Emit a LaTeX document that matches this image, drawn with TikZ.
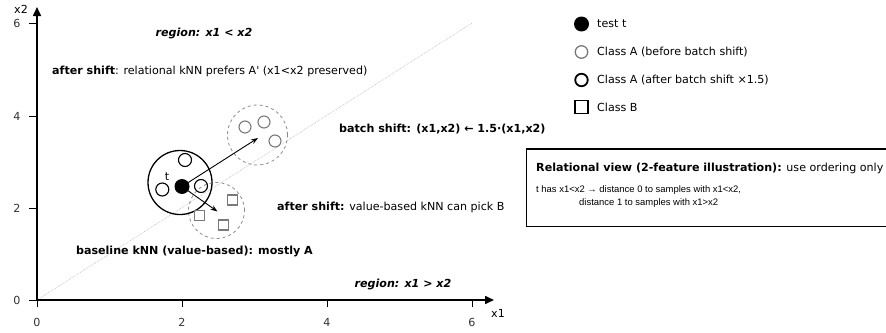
\documentclass[tikz,border=0pt]{standalone}
\usepackage{fontspec}
\setmainfont{DejaVu Sans}
\newfontfamily\dvstraight{DejaVu Sans}[Ligatures=TeXOff]
\newfontfamily\arialf{Liberation Sans}
\usetikzlibrary{arrows.meta}
\definecolor{gA}{HTML}{7A7A7A}
\definecolor{gD}{HTML}{8C8C8C}
\definecolor{gL}{HTML}{BDBDBD}
\tikzset{
  txt/.style={font=\fontsize{11.1}{13}\selectfont, inner sep=0pt},
  axis/.style={line width=1.6pt, -{Triangle[length=9pt,width=8pt]}},
  tick/.style={line width=0.8pt},
  ticklab/.style={txt, text=black!80},
  bigc/.style={circle, draw, line width=1.3pt, minimum size=64pt, inner sep=0pt},
  testpt/.style={circle, fill=black, minimum size=15pt, inner sep=0pt},
  Anew/.style={circle, draw=black, line width=1.1pt, minimum size=13pt, inner sep=0pt},
  Aold/.style={circle, draw=gA, line width=1.1pt, minimum size=12pt, inner sep=0pt},
  Bsq/.style={rectangle, draw=gA, line width=1.1pt, minimum size=10pt, inner sep=0pt},
  dcirc/.style={circle, draw=gD, dashed, line width=0.8pt, inner sep=0pt},
  arr/.style={line width=0.9pt, -{Stealth[length=7pt,width=5pt]}},
  boxtxt/.style={txt, anchor=west, font=\arialf\fontsize{9.45}{11}\selectfont},
}
\begin{document}
\begin{tikzpicture}[x=1pt,y=-1pt]
\useasboundingbox (0,0) rectangle (886,332);
% diagonal
\coordinate (O) at (37,300);
\coordinate (D) at (472,23);
\draw[gL, densely dotted, line width=0.65pt] (O) -- (D);
% axes
\coordinate (xe) at (494,300);
\coordinate (ye) at (37,7);
\draw[axis] (O) -- (xe);
\draw[axis] (O) -- (ye);
\node[txt] (x1lab) at (498,313) {x1};
\node[txt] (x2lab) at (21,9) {x2};
% ticks
\foreach \px/\lab in {37/0,182/2,327/4,472/6}{
  \draw[tick] (\px,300) -- (\px,307);
  \node[ticklab] (xt\lab) at (\px,322) {\lab};
}
\foreach \py/\lab in {300/0,208/2,116/4,23/6}{
  \draw[tick] (29,\py) -- (37,\py);
  \node[ticklab] (yt\lab) at (17,\py) {\lab};
}
% texts
\node[txt, font=\fontsize{11.1}{13}\selectfont\bfseries\itshape] (r1) at (204,33) {region: x1 < x2};
\node[txt, anchor=west] (s1) at (52,71) {\textbf{after shift}: relational kNN prefers A{\dvstraight'} (x1<x2 preserved)};
\node[txt, anchor=west] (bs) at (339,129) {\textbf{batch shift: (x1,x2) ← 1.5·(x1,x2)}};
\node[txt, anchor=west] (s2) at (277,207) {\textbf{after shift:} value-based kNN can pick B};
\node[txt, anchor=east] (bl) at (313,251) {\textbf{baseline kNN (value-based): mostly A}};
\node[txt, font=\fontsize{11.1}{13}\selectfont\bfseries\itshape] (r2) at (403,284) {region: x1 > x2};
% dashed circles
\node[dcirc, minimum size=60pt] (up) at (257.5,135) {};
\node[dcirc, minimum size=56pt] (dn) at (216.5,210.5) {};
% big circle
\node[bigc] (big) at (180,182.5) {};
% class A old
\node[Aold] (a1) at (245,127) {};
\node[Aold] (a2) at (264,122) {};
\node[Aold] (a3) at (275,141) {};
% squares
\node[Bsq] (b1) at (232.7,200) {};
\node[Bsq] (b2) at (199.5,215.5) {};
\node[Bsq] (b3) at (223.3,225) {};
% class A new
\node[Anew] (n1) at (185,160) {};
\node[Anew] (n2) at (162.3,189.5) {};
\node[Anew] (n3) at (201,186) {};
% test point
\node[testpt] (t) at (182,186.5) {};
\node[txt] (tl) at (167,177) {t};
% arrows
\coordinate (upend) at (258,138);
\coordinate (dnend) at (217.5,211.5);
\draw[arr] (t.center) -- (upend);
\draw[arr] (t.center) -- (dnend);
% legend
\node[circle, fill=black, minimum size=15pt, inner sep=0pt] (L1) at (581.5,24) {};
\node[circle, draw=gA, line width=1.3pt, minimum size=12.5pt, inner sep=0pt] (L2) at (581.5,52) {};
\node[circle, draw=black, line width=1.8pt, minimum size=12.5pt, inner sep=0pt] (L3) at (581.5,80) {};
\node[rectangle, draw=black, line width=1.3pt, minimum size=13pt, inner sep=0pt] (L4) at (581.5,107) {};
\node[txt, anchor=west] (T1) at (597,24) {test t};
\node[txt, anchor=west] (T2) at (597,52) {Class A (before batch shift)};
\node[txt, anchor=west] (T3) at (597,80) {Class A (after batch shift ×1.5)};
\node[txt, anchor=west] (T4) at (597,107) {Class B};
% box
\draw[line width=1.5pt] (900,149) -- (526.5,149) -- (526.5,226.5) -- (900,226.5);
\node[txt, anchor=west] (bt) at (536,168) {\textbf{Relational view (2-feature illustration):} use ordering only};
\node[boxtxt] (bl1) at (536,190) {t has x1<x2 → distance 0 to samples with x1<x2,};
\node[boxtxt] (bl2) at (579,203) {distance 1 to samples with x1>x2};
\end{tikzpicture}
\end{document}
